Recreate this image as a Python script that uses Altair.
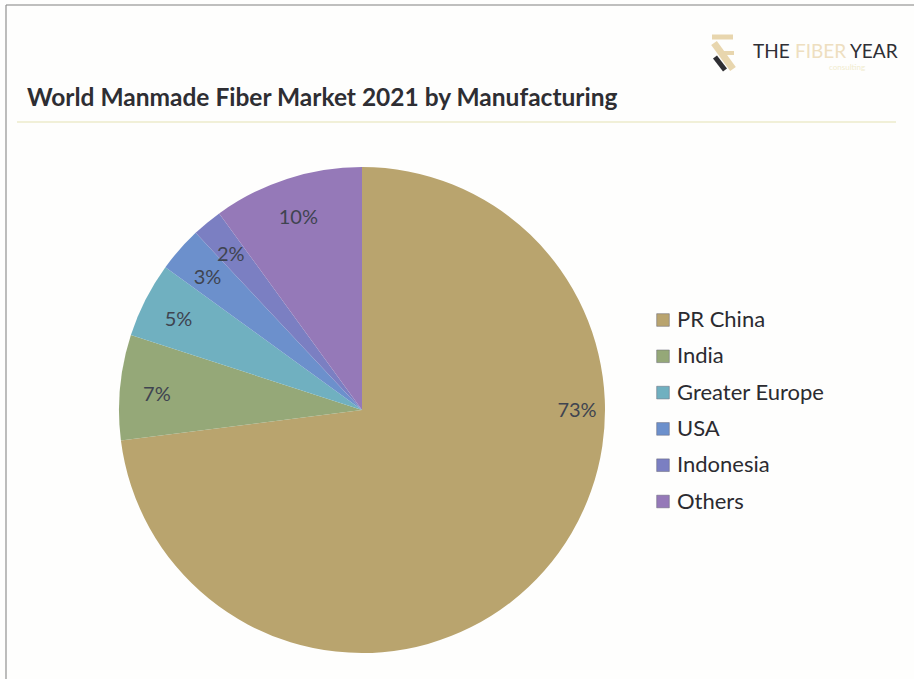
import altair as alt
import pandas as pd

# Market share by manufacturing region, percent
regions = ["PR China", "India", "Greater Europe", "USA", "Indonesia", "Others"]
shares = [73, 7, 5, 3, 2, 10]
slice_colors = ["#B9A46E", "#95A878", "#70B0C0", "#6C90CC", "#7B7FC2", "#9579B8"]

title_text = "World Manmade Fiber Market 2021 by Manufacturing"
FONT = "Lato"
CX, CY, R = 362, 410, 243

df = pd.DataFrame({"region": regions, "share": shares, "rank": list(range(len(regions)))})
# The largest slice has its label placed separately, level with the pie centre
df["rim_label"] = [("" if s == max(shares) else f"{s}%") for s in shares]

theta = alt.Theta("share:Q", stack=True, scale=alt.Scale(domain=[0, 100]))
order = alt.Order("rank:Q")

pie = alt.Chart(df).mark_arc(outerRadius=R).encode(
    theta=theta,
    order=order,
    x=alt.value(CX),
    y=alt.value(CY),
    color=alt.Color(
        "region:N",
        sort=regions,
        scale=alt.Scale(domain=regions, range=slice_colors),
        legend=alt.Legend(
            title=None,
            orient="none",
            legendX=652,
            legendY=309,
            symbolType="square",
            symbolSize=160,
            symbolStrokeColor="#666677",
            symbolStrokeWidth=0.5,
            labelFont=FONT,
            labelFontSize=22,
            labelColor="#2b2b30",
            labelOffset=3,
            rowPadding=14.3,
            labelLimit=260,
        ),
    ),
)

slice_labels = alt.Chart(df).mark_text(
    radius=206, dy=4, font=FONT, fontSize=20, color="#3f4450"
).encode(
    theta=theta,
    order=order,
    text="rim_label:N",
    x=alt.value(CX),
    y=alt.value(CY),
)


def caption(text, x, y, color, size, weight="normal", align="left"):
    return alt.Chart(pd.DataFrame({"t": [text]})).mark_text(
        font=FONT, fontSize=size, fontWeight=weight, color=color, align=align, baseline="alphabetic"
    ).encode(text="t:N", x=alt.value(x), y=alt.value(y))


def stroke(x1, y1, x2, y2, color, width):
    return alt.Chart(pd.DataFrame({"k": [0]})).mark_rule(color=color, strokeWidth=width).encode(
        x=alt.value(x1), x2=alt.value(x2), y=alt.value(y1), y2=alt.value(y2)
    )


largest_label = caption("73%", 577, 417, "#3f4450", 20, align="center")
heading = caption(title_text, 27, 106, "#2e2e33", 24.5, weight="bold")

# Sheet border and the rule under the heading
frame = [
    stroke(6, 5, 914, 5, "#808080", 1.2),
    stroke(6, 5, 6, 679, "#909090", 1.2),
    stroke(17, 122, 896, 122, "#e4e2b4", 1.2),
]

# Brand mark and wordmark
brand = [
    stroke(712, 37, 733, 37, "#e8d6ae", 5),
    stroke(714, 43, 733, 69, "#e8d6ae", 7),
    stroke(723, 53, 734, 53, "#e8d6ae", 4),
    stroke(715, 57, 725, 70, "#2f2f33", 5),
    caption("THE", 753, 58, "#2f2f35", 19),
    caption("FIBER", 795, 58, "#eedfc0", 19),
    caption("YEAR", 850, 58, "#2f2f35", 19),
    caption("consulting", 829, 70, "#f1eccf", 8),
]

chart = alt.layer(pie, slice_labels, largest_label, heading, *frame, *brand).properties(
    width=914,
    height=679,
    padding=0,
    autosize=alt.AutoSizeParams(type="none"),
    background="#fefefd",
).configure_view(stroke=None)

chart.save("out.html", embed_options={"renderer": "svg", "actions": False})
